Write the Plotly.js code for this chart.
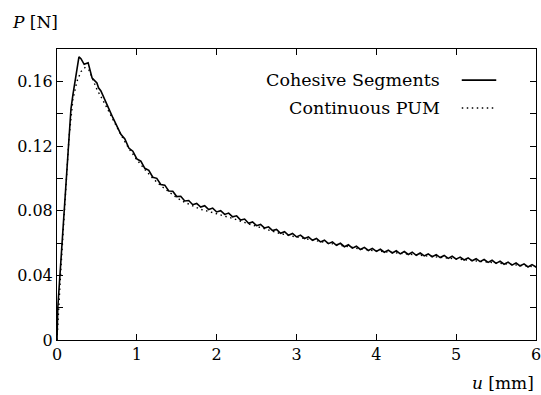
<!DOCTYPE html>
<html>
<head>
<meta charset="utf-8">
<script src="https://cdn.plot.ly/plotly-3.0.1.min.js"></script>
<style>html,body{margin:0;padding:0;background:#fff;}#chart{width:541px;height:395px;}</style>
</head>
<body>
<div id="chart"></div>
<script>
// Cohesive Segments (solid)
const cohesiveU = [0,0.01,0.03,0.06,0.10,0.14,0.175,0.20,0.225,0.25,0.275,0.30,0.34,0.39,0.44,0.50,0.52,
  0.55,0.60,0.65,0.70,0.75,0.80,0.85,0.90,0.95,1.00,1.05,1.10,1.15,1.20,1.25,1.30,1.35,1.40,1.45,1.50,
  1.55,1.60,1.65,1.70,1.75,1.80,1.85,1.90,1.95,2.00,2.05,2.10,2.15,2.20,2.25,2.30,2.35,2.40,2.45,2.50,
  2.55,2.60,2.65,2.70,2.75,2.80,2.85,2.90,2.95,3.00,3.05,3.10,3.15,3.20,3.25,3.30,3.35,3.40,3.45,3.50,
  3.55,3.60,3.65,3.70,3.75,3.80,3.85,3.90,3.95,4.00,4.05,4.10,4.15,4.20,4.25,4.30,4.35,4.40,4.45,4.50,
  4.55,4.60,4.65,4.70,4.75,4.80,4.85,4.90,4.95,5.00,5.05,5.10,5.15,5.20,5.25,5.30,5.35,5.40,5.45,5.50,
  5.55,5.60,5.65,5.70,5.75,5.80,5.85,5.90,5.95,6.00];
const cohesiveP = [0,0.020,0.035,0.058,0.090,0.120,0.143,0.152,0.160,0.168,0.1752,0.174,0.1705,0.1715,0.162,0.159,0.156,
  0.1540,0.1490,0.1430,0.1375,0.1320,0.1272,0.1243,0.1187,0.1168,0.1120,0.1106,0.1062,0.1050,0.1007,0.1000,0.0962,0.0958,0.0922,0.0920,0.0887,
  0.0889,0.0860,0.0863,0.0837,0.0845,0.0822,0.0831,0.0807,0.0816,0.0792,0.0800,0.0777,0.0785,0.0762,0.0768,0.0742,0.0748,0.0722,0.0730,0.0707,
  0.0715,0.0692,0.0700,0.0677,0.0684,0.0660,0.0670,0.0648,0.0659,0.0638,0.0649,0.0628,0.0638,0.0617,0.0628,0.0607,0.0617,0.0596,0.0607,0.0586,
  0.0598,0.0577,0.0589,0.0568,0.0580,0.0560,0.0573,0.0554,0.0567,0.0548,0.0561,0.0543,0.0556,0.0538,0.0552,0.0533,0.0547,0.0529,0.0543,0.0524,
  0.0538,0.0520,0.0533,0.0515,0.0528,0.0510,0.0523,0.0505,0.0518,0.0500,0.0513,0.0495,0.0508,0.0490,0.0503,0.0485,0.0498,0.0480,0.0493,0.0474,
  0.0488,0.0469,0.0482,0.0463,0.0477,0.0458,0.0471,0.0452,0.0466,0.0452];

// Continuous PUM (dotted)
const pumU = [0,0.02,0.05,0.10,0.15,0.20,0.25,0.30,0.35,0.40,0.45,0.50,0.60,0.70,0.80,0.90,1.00,1.10,1.20,1.30,1.40,1.50,
  1.60,1.70,1.80,1.90,2.00,2.20,2.40,2.60,2.80,3.00,3.20,3.40,3.60,3.80,4.00,4.20,4.40,4.60,4.80,5.00,5.20,5.40,5.60,5.80,6.00];
const pumP = [0,0.020,0.045,0.085,0.125,0.149,0.160,0.166,0.1685,0.167,0.161,0.155,0.146,0.136,0.127,0.1185,0.1115,0.1055,0.1000,0.0955,0.0915,0.0880,
  0.0852,0.0828,0.0808,0.0795,0.0782,0.0752,0.0718,0.0688,0.0658,0.0637,0.0618,0.0598,0.0580,0.0563,0.0551,0.0541,0.0532,0.0523,0.0513,0.0503,0.0493,0.0484,0.0473,0.0462,0.0452];

const xTicks = [0,1,2,3,4,5,6];
const xTickText = ['0','1','2','3','4','5','6'];
const yTicks = [0,0.04,0.08,0.12,0.16];
const yTickText = ['0','0.04','0.08','0.12','0.16'];
const seriesNames = ['Cohesive Segments','Continuous PUM'];

const FONT = 'DejaVu Serif';
const DOT = '1.5px,3.5px';

const traces = [
  {x: cohesiveU, y: cohesiveP, type: 'scatter', mode: 'lines', name: seriesNames[0],
   line: {color: '#000', width: 1.6}, showlegend: false},
  {x: pumU, y: pumP, type: 'scatter', mode: 'lines', name: seriesNames[1],
   line: {color: '#000', width: 1.4, dash: DOT}, showlegend: false}
];

const axisCommon = {
  showline: true, linecolor: '#000', linewidth: 1, mirror: 'ticks',
  ticks: 'inside', ticklen: 6, tickwidth: 1, tickcolor: '#000',
  showgrid: false, zeroline: false, ticklabeloverflow: 'allow',
  tickfont: {family: FONT, size: 16, color: '#000'}
};

const layout = {
  width: 541, height: 395,
  margin: {l: 57, r: 5, t: 49, b: 55},
  paper_bgcolor: '#fff', plot_bgcolor: '#fff',
  font: {family: FONT, color: '#000'},
  xaxis: Object.assign({}, axisCommon, {range: [0, 6], tickmode: 'array', tickvals: xTicks, ticktext: xTickText}),
  yaxis: Object.assign({}, axisCommon, {range: [0, 0.18], tickmode: 'array', tickvals: yTicks, ticktext: yTickText,
    minor: {dtick: 0.02, ticks: 'inside', ticklen: 6, tickwidth: 1, tickcolor: '#000'}}),
  annotations: [
    {text: seriesNames[0], xref: 'paper', yref: 'paper', x: 0.804, y: 0.893, xanchor: 'right', yanchor: 'middle',
     showarrow: false, font: {family: FONT, size: 17.5, color: '#000'}},
    {text: seriesNames[1], xref: 'paper', yref: 'paper', x: 0.804, y: 0.797, xanchor: 'right', yanchor: 'middle',
     showarrow: false, font: {family: FONT, size: 17.5, color: '#000'}},
    {text: '<i>P</i> [N]', xref: 'paper', yref: 'paper', x: -0.098, y: 1.093, xanchor: 'left', yanchor: 'middle',
     showarrow: false, font: {family: FONT, size: 17, color: '#000'}},
    {text: '<i>u</i> [mm]', xref: 'paper', yref: 'paper', x: 1.0, y: -0.148, xanchor: 'right', yanchor: 'middle',
     showarrow: false, font: {family: FONT, size: 17, color: '#000'}}
  ],
  shapes: [
    {type: 'line', xref: 'paper', yref: 'paper', x0: 0.845, x1: 0.917, y0: 0.893, y1: 0.893,
     line: {color: '#000', width: 1.6}},
    {type: 'line', xref: 'paper', yref: 'paper', x0: 0.845, x1: 0.917, y0: 0.797, y1: 0.797,
     line: {color: '#000', width: 1.4, dash: DOT}}
  ]
};

Plotly.newPlot('chart', traces, layout, {staticPlot: true, displayModeBar: false});
</script>
</body>
</html>
